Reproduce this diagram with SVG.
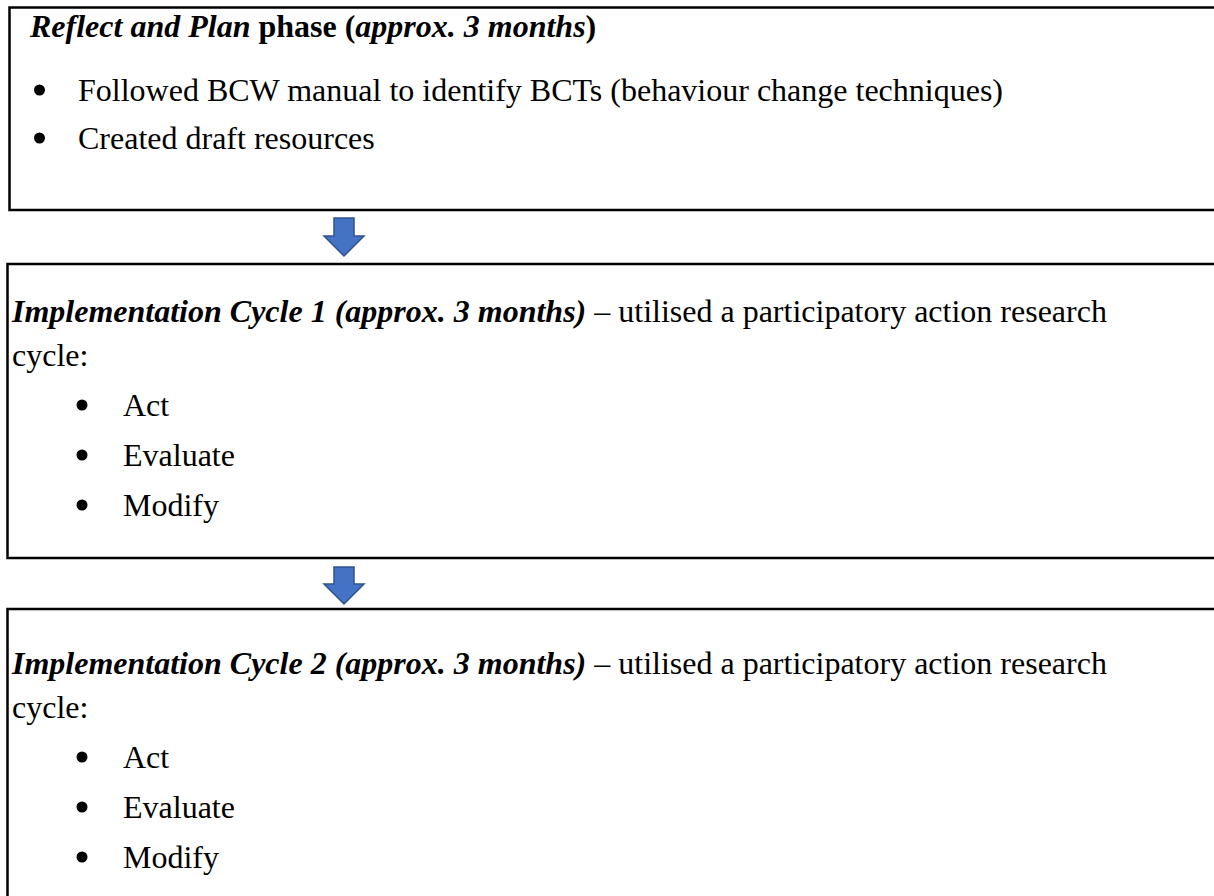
<svg xmlns="http://www.w3.org/2000/svg" width="1214" height="896" viewBox="0 0 1214 896">
<style>
.box{fill:#fff;stroke:#000;stroke-width:2.5}
.t{font-family:"Liberation Serif","Times New Roman",serif;font-size:32px;fill:#000}
.bi{font-weight:bold;font-style:italic}
.b{font-weight:bold}
.arrow{fill:#4472C4;stroke:#2F528F;stroke-width:1.5}
</style>
<rect width="1214" height="896" fill="#fff"/>
<g id="node-reflect">
<rect class="box" x="9.5" y="7.5" width="1220" height="202.5"/>
<text class="t" x="30" y="37"><tspan class="bi">Reflect and Plan</tspan><tspan class="b"> phase (</tspan><tspan class="bi">approx. 3 months</tspan><tspan class="b">)</tspan></text>
<circle cx="39.5" cy="90" r="5.5"/>
<text class="t" x="78" y="101">Followed BCW manual to identify BCTs (behaviour change techniques)</text>
<circle cx="39.5" cy="138" r="5.5"/>
<text class="t" x="78" y="149">Created draft resources</text>
</g>
<g id="node-cycle1">
<rect class="box" x="7.5" y="264" width="1220" height="294"/>
<text class="t" x="12" y="322"><tspan class="bi">Implementation Cycle 1 (approx. 3 months)</tspan> – utilised a participatory action research</text>
<text class="t" x="12" y="366">cycle:</text>
<circle cx="82" cy="405" r="5.5"/>
<text class="t" x="123" y="416">Act</text>
<circle cx="82" cy="455" r="5.5"/>
<text class="t" x="123" y="466">Evaluate</text>
<circle cx="82" cy="505" r="5.5"/>
<text class="t" x="123" y="516">Modify</text>
</g>
<g id="node-cycle2">
<rect class="box" x="7.5" y="609" width="1220" height="300"/>
<text class="t" x="12" y="674"><tspan class="bi">Implementation Cycle 2 (approx. 3 months)</tspan> – utilised a participatory action research</text>
<text class="t" x="12" y="718">cycle:</text>
<circle cx="82" cy="757" r="5.5"/>
<text class="t" x="123" y="768">Act</text>
<circle cx="82" cy="807" r="5.5"/>
<text class="t" x="123" y="818">Evaluate</text>
<circle cx="82" cy="857" r="5.5"/>
<text class="t" x="123" y="868">Modify</text>
</g>
<g id="connectors">
<polygon class="arrow" points="334,218 354,218 354,236 364,236 344,256 324,236 334,236"/>
<polygon class="arrow" points="334,567 354,567 354,584 364,584 344,604 324,584 334,584"/>
</g>
</svg>
